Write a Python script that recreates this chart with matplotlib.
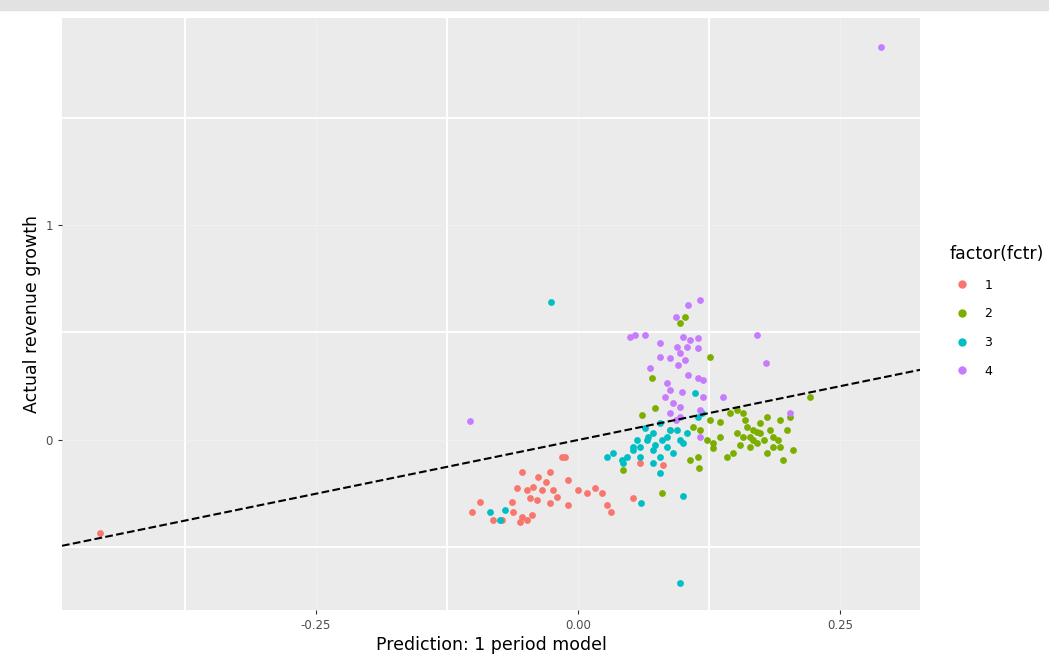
import matplotlib.pyplot as plt
import matplotlib.patches as mpatches
from matplotlib.lines import Line2D

# 数据：按 factor(fctr) 分组
x1 = [-0.456, -0.015, -0.012, -0.053, -0.027, -0.038, -0.031, -0.010, -0.058, -0.049,
      -0.043, -0.034, -0.024, -0.020, -0.046, -0.039, -0.027, 0.000, 0.009, 0.016,
      0.023, -0.010, -0.094, -0.063, 0.028, 0.031, 0.052, -0.101, -0.062, -0.053,
      -0.044, -0.049, -0.081, -0.055, -0.073, 0.088, 0.059, 0.081]
y1 = [-0.433, -0.079, -0.079, -0.149, -0.149, -0.172, -0.195, -0.186, -0.223, -0.233,
      -0.219, -0.233, -0.233, -0.265, -0.270, -0.279, -0.293, -0.233, -0.247, -0.223,
      -0.247, -0.302, -0.288, -0.288, -0.302, -0.335, -0.270, -0.335, -0.335, -0.358,
      -0.349, -0.372, -0.372, -0.381, -0.372, 0.047, -0.107, -0.116]

x2 = [0.102, 0.097, 0.126, 0.071, 0.073, 0.061, 0.126, 0.135, 0.152, 0.157,
      0.180, 0.193, 0.202, 0.221, 0.161, 0.167, 0.174, 0.164, 0.177, 0.186,
      0.199, 0.157, 0.152, 0.135, 0.129, 0.116, 0.110, 0.123, 0.171, 0.180,
      0.193, 0.205, 0.196, 0.148, 0.142, 0.129, 0.114, 0.115, 0.107, 0.080,
      0.043, 0.164, 0.186, 0.167, 0.174, 0.145, 0.155, 0.183, 0.171, 0.191, 0.159]
y2 = [0.572, 0.544, 0.386, 0.288, 0.149, 0.116, 0.093, 0.084, 0.140, 0.126,
      0.107, 0.093, 0.107, 0.200, 0.060, 0.047, 0.033, 0.014, 0.000, 0.014,
      0.047, 0.014, 0.033, 0.014, -0.014, 0.047, 0.060, 0.000, -0.014, -0.060,
      -0.033, -0.047, -0.093, -0.060, -0.079, -0.037, -0.079, -0.130, -0.093, -0.247,
      -0.140, -0.033, -0.033, 0.000, 0.079, 0.126, -0.023, 0.047, 0.037, 0.000, 0.093]

x3 = [-0.026, 0.097, 0.100, 0.060, -0.084, -0.070, -0.074, 0.078, 0.072, 0.085,
      0.094, 0.066, 0.059, 0.052, 0.072, 0.085, 0.097, 0.104, 0.047, 0.059,
      0.078, 0.091, 0.072, 0.078, 0.100, 0.114, 0.118, 0.112, 0.042, 0.028,
      0.033, 0.043, 0.052, 0.056, 0.064, 0.067, 0.080, 0.088, 0.073]
y3 = [0.642, -0.665, -0.260, -0.293, -0.335, -0.326, -0.372, 0.079, 0.033, 0.014,
      0.047, 0.000, -0.033, -0.047, -0.047, -0.033, 0.000, 0.033, -0.079, -0.079,
      -0.079, -0.060, -0.107, -0.153, -0.014, 0.107, 0.126, 0.219, -0.093, -0.079,
      -0.060, -0.107, -0.033, 0.000, 0.056, 0.014, 0.000, 0.047, -0.023]

x4 = [0.289, -0.103, 0.171, 0.179, 0.116, 0.105, 0.093, 0.050, 0.054, 0.064,
      0.078, 0.100, 0.107, 0.114, 0.094, 0.104, 0.114, 0.097, 0.088, 0.102,
      0.078, 0.095, 0.069, 0.105, 0.114, 0.119, 0.085, 0.088, 0.099, 0.083,
      0.119, 0.138, 0.091, 0.097, 0.088, 0.097, 0.093, 0.116, 0.202, 0.116]
y4 = [1.828, 0.088, 0.488, 0.358, 0.651, 0.628, 0.572, 0.479, 0.488, 0.488,
      0.451, 0.479, 0.465, 0.474, 0.433, 0.433, 0.428, 0.405, 0.381, 0.372,
      0.386, 0.349, 0.335, 0.302, 0.288, 0.279, 0.265, 0.233, 0.223, 0.200,
      0.200, 0.200, 0.172, 0.153, 0.126, 0.107, 0.093, 0.014, 0.126, 0.140]

groups = ['1', '2', '3', '4']
colors = ['#F8766D', '#7CAE00', '#00BFC4', '#C77CFF']
xs = [x1, x2, x3, x4]
ys = [y1, y2, y3, y4]

fig = plt.figure(figsize=(10.49, 6.6), dpi=100)
# 截图顶部的灰条
fig.patches.append(mpatches.Rectangle((0, 1 - 10 / 660), 1, 10 / 660, transform=fig.transFigure,
                                      color='#e2e2e2', zorder=0))
ax = fig.add_axes([62 / 1049, 1 - 610 / 660, (920 - 62) / 1049, (610 - 18) / 660])
ax.set_facecolor('#ebebeb')
for s in ax.spines.values():
    s.set_visible(False)

ax.set_xlim(-0.4924, 0.3263)
ax.set_ylim(-0.791, 1.963)

ax.set_xticks([-0.25, 0.0, 0.25])
ax.set_xticklabels(['-0.25', '0.00', '0.25'])
ax.set_yticks([0, 1])
ax.set_yticklabels(['0', '1'])
ax.set_xticks([-0.375, -0.125, 0.125], minor=True)
ax.set_yticks([-0.5, 1.0, 1.5, 0.5], minor=True)
ax.grid(True, which='major', color='#f5f5f5', linewidth=0.4)
ax.grid(True, which='minor', color='white', linewidth=1.4)
ax.set_axisbelow(True)
ax.tick_params(which='minor', length=0)
ax.tick_params(which='major', length=3, color='#333333', labelsize=8.5, labelcolor='#4d4d4d')

for g, c, x, y in zip(groups, colors, xs, ys):
    ax.scatter(x, y, s=24, color=c, linewidths=0, zorder=3)

ax.axline((0, 0), slope=1, linestyle='--', color='black', linewidth=1.5, zorder=4)

ax.set_xlabel('Prediction: 1 period model', fontsize=12.5, color='black', labelpad=3)
ax.set_ylabel('Actual revenue growth', fontsize=12.5, color='black', labelpad=3)

handles = [Line2D([], [], marker='o', linestyle='', markersize=5, color=c) for c in colors]
leg = fig.legend(handles, groups, title='factor(fctr)', loc='upper left',
                 bbox_to_anchor=(938 / 1049, 1 - 234 / 660), frameon=False,
                 fontsize=9, title_fontsize=12.5, labelspacing=1.25, handletextpad=0.8,
                 alignment='left')

fig.savefig('out.png', dpi=100)
